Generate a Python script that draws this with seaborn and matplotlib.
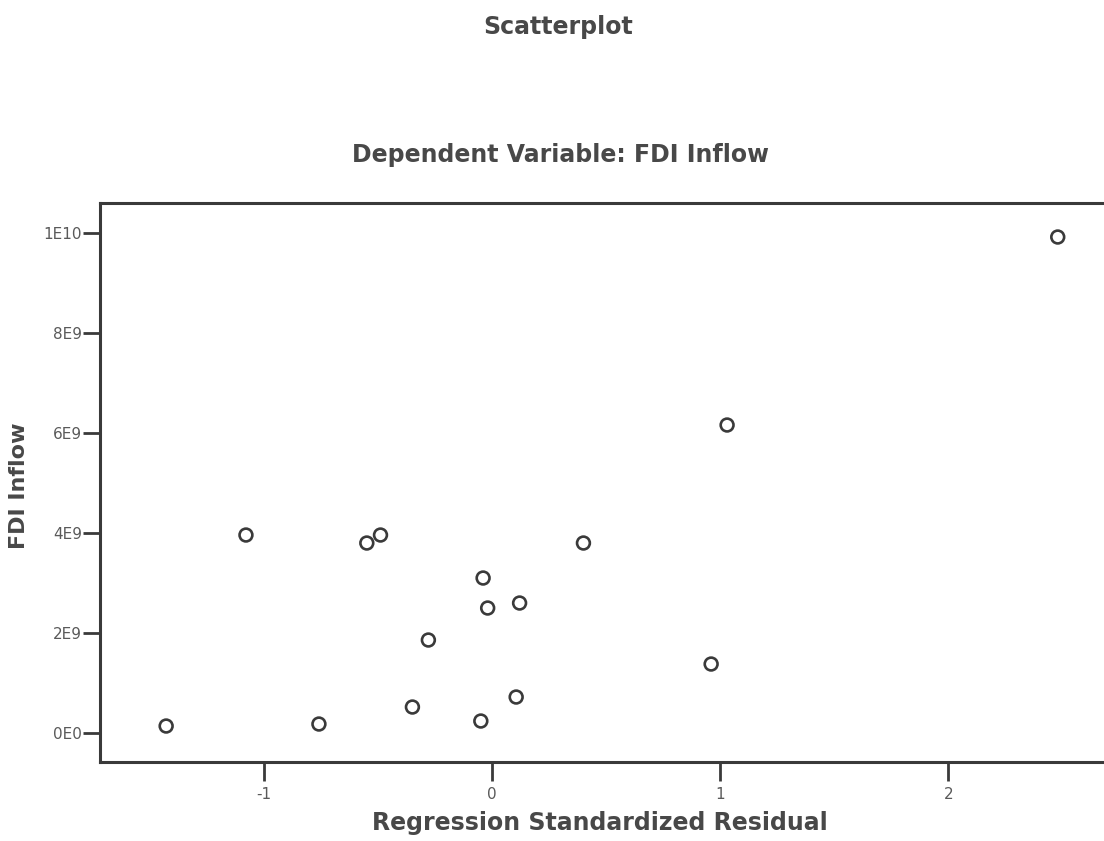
import matplotlib
matplotlib.use("Agg")
import matplotlib.pyplot as plt
import seaborn as sns
import pandas as pd

# Regression standardized residuals and FDI inflow (USD)
residual = [-1.43, -1.08, -0.76, -0.55, -0.49, -0.35, -0.28, -0.04, -0.02,
            -0.05, 0.105, 0.12, 0.40, 0.96, 1.03, 2.48]
fdi_inflow = [0.14e9, 3.96e9, 0.18e9, 3.80e9, 3.96e9, 0.52e9, 1.86e9, 3.10e9,
              2.50e9, 0.24e9, 0.72e9, 2.60e9, 3.80e9, 1.38e9, 6.16e9, 9.92e9]

x_ticks = [-1, 0, 1, 2]
x_tick_labels = ["-1", "0", "1", "2"]
y_ticks = [0, 2e9, 4e9, 6e9, 8e9, 1e10]
y_tick_labels = ["0E0", "2E9", "4E9", "6E9", "8E9", "1E10"]

df = pd.DataFrame({"Regression Standardized Residual": residual,
                   "FDI Inflow": fdi_inflow})

sns.set_style("white")
plt.rcParams["font.family"] = ["DejaVu Sans"]

ink = "#3a3a3a"
text_ink = "#484848"
heading = dict(fontweight="bold", color=text_ink, fontsize=17,
               ha="center", va="center")

fig = plt.figure(figsize=(11.04, 8.41), dpi=100)
ax = fig.add_axes([0.0906, 0.0939, 0.915, 0.6647])

sns.scatterplot(data=df, x="Regression Standardized Residual", y="FDI Inflow",
                ax=ax, marker="o", s=85, facecolor="none",
                edgecolor=ink, linewidth=1.9)

ax.set_xlim(-1.72, 2.71)
ax.set_ylim(-0.58e9, 10.6e9)
ax.set_xticks(x_ticks)
ax.set_xticklabels(x_tick_labels)
ax.set_yticks(y_ticks)
ax.set_yticklabels(y_tick_labels)

for side in ["left", "bottom", "top", "right"]:
    ax.spines[side].set_color(ink)
    ax.spines[side].set_linewidth(2.2)

ax.tick_params(axis="both", which="major", direction="out", color=ink,
               width=2, labelsize=11, labelcolor="#5a5a5a",
               bottom=True, left=True)
ax.tick_params(axis="y", length=12, pad=1)
ax.tick_params(axis="x", length=14, pad=4)

ax.set_xlabel("")
ax.set_ylabel("")
fig.text(600 / 1104, 1 - 823 / 841, "Regression Standardized Residual",
         **heading)
fig.text(19 / 1104, 1 - 486 / 841, "FDI Inflow", rotation=90,
         **{**heading, "fontsize": 16})

fig.text(558 / 1104, 1 - 27 / 841, "Scatterplot", **heading)
fig.text(560 / 1104, 1 - 155 / 841, "Dependent Variable: FDI Inflow",
         **heading)

fig.savefig("out.png", dpi=100, facecolor="white")
